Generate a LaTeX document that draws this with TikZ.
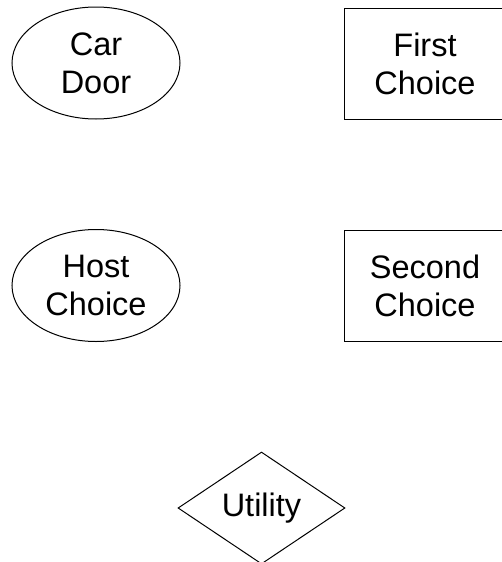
\documentclass[tikz,border=0pt]{standalone}
\usepackage{fontspec}
\setmainfont{Liberation Sans}
\usetikzlibrary{shapes.geometric}
\begin{document}
\begin{tikzpicture}[x=1pt,y=1pt,
  every node/.style={font=\fontsize{32.5}{38}\selectfont, align=center, line width=1pt, draw=black, inner sep=0pt},
  chance/.style={ellipse, minimum width=168pt, minimum height=112pt},
  decision/.style={rectangle, minimum width=162pt, minimum height=111pt},
  utilitynode/.style={diamond, minimum width=167pt, minimum height=112pt}]
\useasboundingbox (0,0) rectangle (502,-562);
\node[chance] (car) at (96,-63) {Car\\Door};
\node[decision] (first) at (425,-63.5) {First\\Choice};
\node[chance] (host) at (96,-285.5) {Host\\Choice};
\node[decision] (second) at (425,-286) {Second\\Choice};
\node[utilitynode] (util) at (261.5,-508) {Utility};
\end{tikzpicture}
\end{document}
